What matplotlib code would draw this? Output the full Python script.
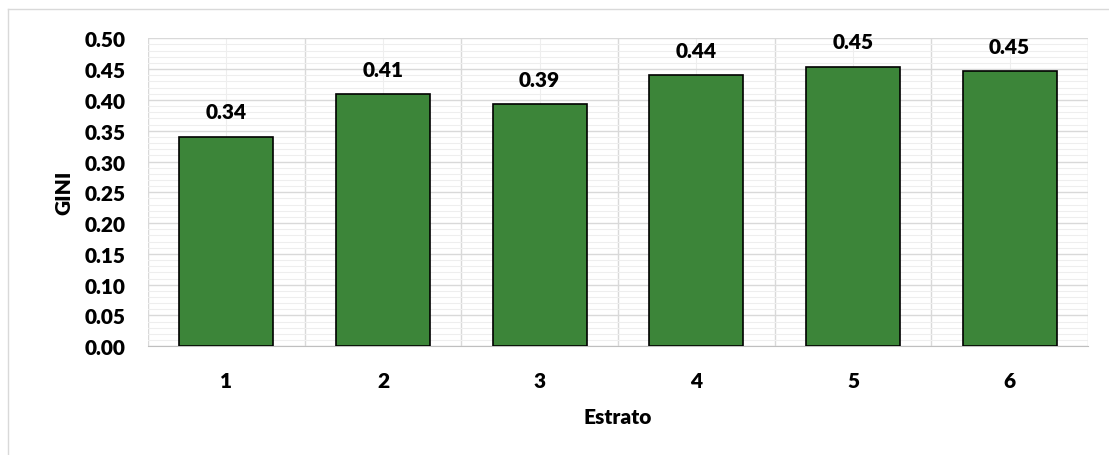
import matplotlib
matplotlib.use('Agg')
import matplotlib.pyplot as plt
from matplotlib.ticker import MultipleLocator, FixedLocator
from matplotlib.lines import Line2D

plt.rcParams['font.family'] = ['Lato', 'DejaVu Sans']
plt.rcParams['font.weight'] = 'bold'

# datos
estratos = ['1', '2', '3', '4', '5', '6']
gini = [0.340, 0.409, 0.393, 0.440, 0.454, 0.447]

fig = plt.figure(figsize=(11.09, 4.56), dpi=100)
ax = fig.add_axes([0.1335, 0.2384, 0.8475, 0.6754])

x = range(len(estratos))
bars = ax.bar(x, gini, width=0.6, color='#3c8539', edgecolor='black', linewidth=1.2, zorder=3)

for xi, v in zip(x, gini):
    ax.text(xi, v + 0.025, '%.2f' % v, ha='center', va='bottom', fontsize=15, fontweight='heavy')

ax.set_xlim(-0.5, len(estratos) - 0.5)
ax.set_ylim(0, 0.5)
ax.set_xticks(list(x))
ax.set_xticklabels(estratos, fontweight='heavy')
ax.yaxis.set_major_locator(MultipleLocator(0.05))
ax.yaxis.set_minor_locator(MultipleLocator(0.01))
ax.set_yticks(ax.get_yticks())
ax.set_yticklabels(['%.2f' % t for t in ax.get_yticks()], fontweight='heavy')
ax.set_ylim(0, 0.5)
ax.xaxis.set_minor_locator(FixedLocator([i + 0.5 for i in range(-1, len(estratos))]))

# cuadrícula estilo Excel
ax.grid(which='minor', axis='y', color='#eeeeee', linewidth=0.8, zorder=0)
ax.grid(which='major', axis='y', color='#d9d9d9', linewidth=1.0, zorder=1)
ax.grid(which='major', axis='x', color='#eeeeee', linewidth=0.8, zorder=0)
ax.grid(which='minor', axis='x', color='#d9d9d9', linewidth=1.0, zorder=1)

for s in ['top', 'right', 'left']:
    ax.spines[s].set_visible(False)
ax.spines['bottom'].set_color('#bfbfbf')
ax.tick_params(axis='both', which='both', length=0, labelsize=15)
ax.tick_params(axis='y', pad=16)
ax.tick_params(axis='x', pad=18)

ax.set_xlabel('Estrato', fontsize=15, fontweight='heavy', labelpad=12)
ax.set_ylabel('GINI', fontsize=15, fontweight='heavy', labelpad=8)

# borde del gráfico (solo arriba e izquierda visibles)
fig.add_artist(Line2D([8 / 1109, 8 / 1109], [0, 1 - 10 / 456], color='#d9d9d9', linewidth=1))
fig.add_artist(Line2D([8 / 1109, 1], [1 - 10 / 456, 1 - 10 / 456], color='#d9d9d9', linewidth=1))

fig.savefig('out.png', dpi=100)
